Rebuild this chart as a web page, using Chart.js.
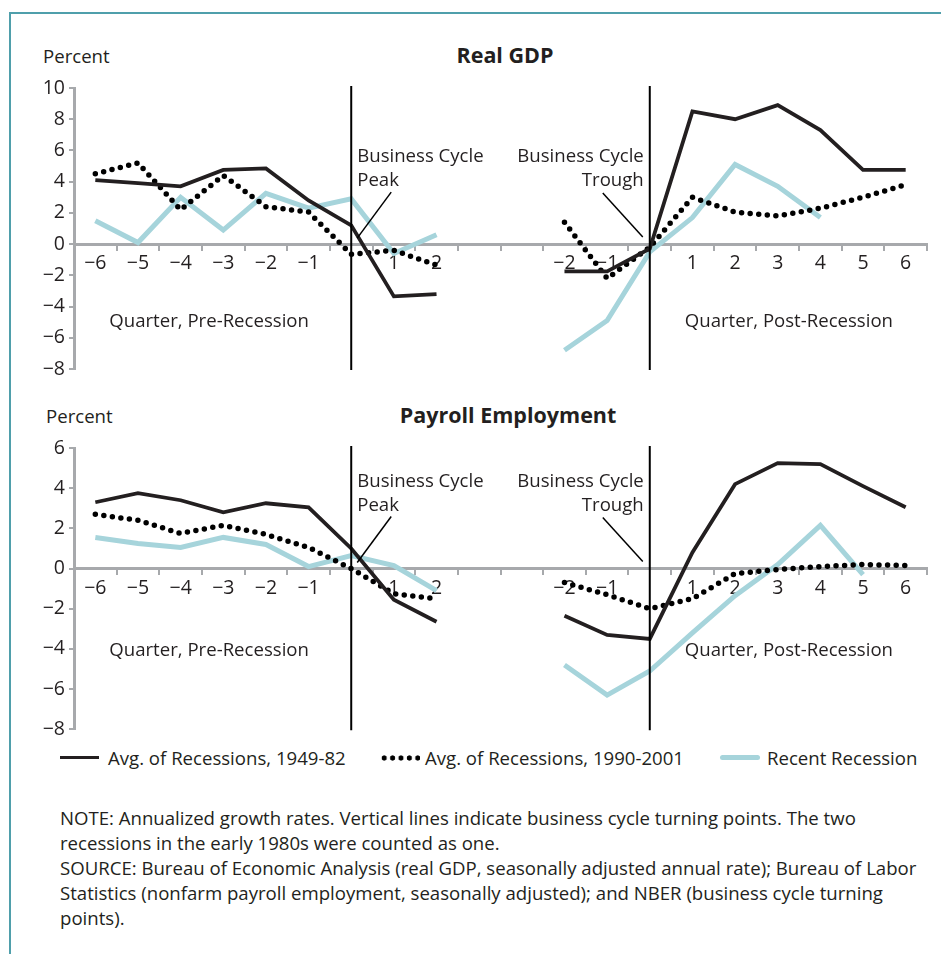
<!DOCTYPE html>
<html>
<head>
<meta charset="utf-8">
<script src="https://cdn.jsdelivr.net/npm/chart.js@4.4.1/dist/chart.umd.min.js"></script>
<style>
  html, body { margin: 0; padding: 0; background: #fff; }
  body { width: 941px; height: 954px; position: relative; overflow: hidden; font-family: "Open Sans", sans-serif; color: #231f20; }
  .frame { position: absolute; left: 9px; top: 12px; right: -2px; bottom: -2px; border-left: 2px solid #4f9fab; border-top: 2px solid #4f9fab; }
  .txt { position: absolute; font-size: 18.6px; line-height: 24px; white-space: nowrap; }
  .title { position: absolute; font-size: 21.5px; font-weight: bold; white-space: nowrap; transform: translateX(-50%); line-height: 26px; }
  .key { position: absolute; height: 0; }
  .chartbox { position: absolute; left: 0; width: 941px; }
  .note { position: absolute; left: 60px; top: 805px; font-size: 18.6px; line-height: 25px; white-space: nowrap; }
</style>
</head>
<body>
<div class="frame"></div>

<div class="txt" style="left:43px; top:44px;">Percent</div>
<div class="title" style="left:505px; top:42px;">Real GDP</div>
<div class="chartbox" style="top:0; height:390px;"><canvas id="gdpChart" width="941" height="390"></canvas></div>

<div class="txt" style="left:46px; top:404px;">Percent</div>
<div class="title" style="left:508px; top:402px;">Payroll Employment</div>
<div class="chartbox" style="top:390px; height:355px;"><canvas id="payrollChart" width="941" height="355"></canvas></div>

<div class="key" style="left:60px; top:756px; width:39px; border-top:3.8px solid #231f20;"></div>
<div class="txt" style="left:108px; top:746px;">Avg. of Recessions, 1949-82</div>
<div class="key" style="left:380px; top:755px; width:40px; height:6px; background:radial-gradient(circle, #000 2.3px, transparent 2.9px) 0 0/8.4px 6px repeat-x;"></div>
<div class="txt" style="left:425px; top:746px;">Avg. of Recessions, 1990-2001</div>
<div class="key" style="left:720px; top:755px; width:40px; height:5px; border-radius:3px; background:#a6d4db;"></div>
<div class="txt" style="left:767px; top:746px;">Recent Recession</div>

<div class="note">NOTE: Annualized growth rates. Vertical lines indicate business cycle turning points. The two<br>recessions in the early 1980s were counted as one.<br>SOURCE: Bureau of Economic Analysis (real GDP, seasonally adjusted annual rate); Bureau of Labor<br>Statistics (nonfarm payroll employment, seasonally adjusted); and NBER (business cycle turning<br>points).</div>

<script>
// x positions: quarters -6..2 around the peak, two empty slots, quarters -2..6 around the trough
const quarterTicks = ['−6', '−5', '−4', '−3', '−2', '−1', '', '1', '2', '', '', '−2', '−1', '', '1', '2', '3', '4', '5', '6'];
const seriesNames = ['Avg. of Recessions, 1949-82', 'Avg. of Recessions, 1990-2001', 'Recent Recession'];

// Real GDP, percent
const gdpOldPre = [4.1, 3.9, 3.7, 4.75, 4.85, 2.8, 1.2, -3.35, -3.2];
const gdpOldPost = [-1.75, -1.75, -0.3, 8.5, 8.0, 8.9, 7.3, 4.75, 4.75];
const gdpMidPre = [4.5, 5.2, 2.2, 4.4, 2.4, 2.05, -0.65, -0.4, -1.35];
const gdpMidPost = [1.4, -2.2, -0.2, 3.0, 2.05, 1.8, 2.3, 3.0, 3.8];
const gdpNowPre = [1.5, 0.1, 3.0, 0.9, 3.25, 2.3, 2.9, -0.6, 0.6];
const gdpNowPost = [-6.8, -4.9, -0.5, 1.7, 5.1, 3.7, 1.7, null, null];

// Payroll employment, percent
const payOldPre = [3.3, 3.75, 3.4, 2.8, 3.25, 3.05, 1.0, -1.55, -2.65];
const payOldPost = [-2.35, -3.3, -3.5, 0.8, 4.2, 5.25, 5.2, 4.1, 3.05];
const payMidPre = [2.7, 2.4, 1.75, 2.15, 1.7, 1.05, 0.0, -1.25, -1.5];
const payMidPost = [-0.7, -1.3, -2.0, -1.5, -0.25, -0.05, 0.1, 0.2, 0.15];
const payNowPre = [1.55, 1.25, 1.05, 1.55, 1.2, 0.1, 0.65, 0.15, -1.1];
const payNowPost = [-4.8, -6.3, -5.1, -3.2, -1.35, 0.2, 2.15, -0.3, null];

const INK = '#231f20';
const GRAY = '#a7a9ac';
const BLUE = '#a6d4db';
const FONT_FAMILY = '"Open Sans", sans-serif';
const PEAK_IDX = 6, TROUGH_IDX = 13;

function joinHalves(pre, post) { return pre.concat([null, null], post); }
function fmt(v) { return v < 0 ? '−' + Math.abs(v) : String(v); }

const cycleMarks = {
  id: 'cycleMarks',
  afterDatasetsDraw(chart, args, opts) {
    const { ctx, chartArea, scales: { x, y } } = chart;
    const y0 = y.getPixelForValue(0);
    const peakX = x.getPixelForValue(PEAK_IDX);
    const troughX = x.getPixelForValue(TROUGH_IDX);
    ctx.save();
    ctx.strokeStyle = '#000';
    ctx.lineWidth = 2;
    [peakX, troughX].forEach(px => {
      ctx.beginPath(); ctx.moveTo(px, chartArea.top - 2); ctx.lineTo(px, chartArea.bottom + 1); ctx.stroke();
    });
    ctx.lineWidth = 1.5;
    ctx.beginPath(); ctx.moveTo(peakX + 40, y0 - 52); ctx.lineTo(peakX + 6, y0 - 6); ctx.stroke();
    ctx.beginPath(); ctx.moveTo(troughX - 47, y0 - 51); ctx.lineTo(troughX - 7, y0 - 7); ctx.stroke();

    ctx.font = '18.6px ' + FONT_FAMILY;
    ctx.fillStyle = INK;
    ctx.textBaseline = 'middle';
    ctx.textAlign = 'left';
    ctx.fillText('Business Cycle', peakX + 6, y0 - 87);
    ctx.fillText('Peak', peakX + 6, y0 - 63);
    ctx.textAlign = 'right';
    ctx.fillText('Business Cycle', troughX - 6, y0 - 87);
    ctx.fillText('Trough', troughX - 6, y0 - 63);
    ctx.textAlign = 'left';
    ctx.fillText('Quarter, Pre-Recession', x.getPixelForValue(0) + 14, y0 + opts.quarterOffset);
    ctx.fillText('Quarter, Post-Recession', x.getPixelForValue(TROUGH_IDX) + 35, y0 + opts.quarterOffset);
    ctx.restore();
  }
};

function makeChart(id, old, mid, now, yMin, yMax, pad, quarterOffset) {
  return new Chart(document.getElementById(id), {
    type: 'line',
    data: {
      labels: quarterTicks,
      datasets: [
        { label: seriesNames[0], data: old, borderColor: INK, borderWidth: 3.8, borderJoinStyle: 'miter' },
        { label: seriesNames[1], data: mid, borderColor: '#000', borderWidth: 5.5, borderDash: [0, 8.6], borderCapStyle: 'round', borderJoinStyle: 'round' },
        { label: seriesNames[2], data: now, borderColor: BLUE, borderWidth: 5, borderJoinStyle: 'miter' }
      ]
    },
    options: {
      responsive: false,
      animation: false,
      spanGaps: false,
      layout: { padding: pad },
      elements: { point: { radius: 0, hoverRadius: 0 }, line: { tension: 0 } },
      plugins: { legend: { display: false }, tooltip: { enabled: false }, cycleMarks: { quarterOffset } },
      scales: {
        x: {
          type: 'category',
          offset: true,
          position: { y: 0 },
          grid: { offset: true, drawOnChartArea: false, drawTicks: true, tickLength: 5, color: GRAY, lineWidth: 2 },
          border: { color: GRAY, width: 3 },
          ticks: { autoSkip: false, maxRotation: 0, padding: 3, color: INK, font: { family: FONT_FAMILY, size: 19.5 } }
        },
        y: {
          min: yMin,
          max: yMax,
          afterFit: s => { s.width = 74; },
          grid: { drawOnChartArea: false, drawTicks: true, tickLength: 5, color: GRAY, lineWidth: 2 },
          border: { color: GRAY, width: 3 },
          ticks: { stepSize: 2, padding: 4, color: INK, font: { family: FONT_FAMILY, size: 19.5 }, callback: v => fmt(v) }
        }
      }
    },
    plugins: [cycleMarks]
  });
}

makeChart('gdpChart',
  joinHalves(gdpOldPre, gdpOldPost), joinHalves(gdpMidPre, gdpMidPost), joinHalves(gdpNowPre, gdpNowPost),
  -8, 10, { top: 88, bottom: 21, left: 0, right: 14 }, 78);

makeChart('payrollChart',
  joinHalves(payOldPre, payOldPost), joinHalves(payMidPre, payMidPost), joinHalves(payNowPre, payNowPost),
  -8, 6, { top: 58, bottom: 15, left: 0, right: 14 }, 82);
</script>
</body>
</html>
